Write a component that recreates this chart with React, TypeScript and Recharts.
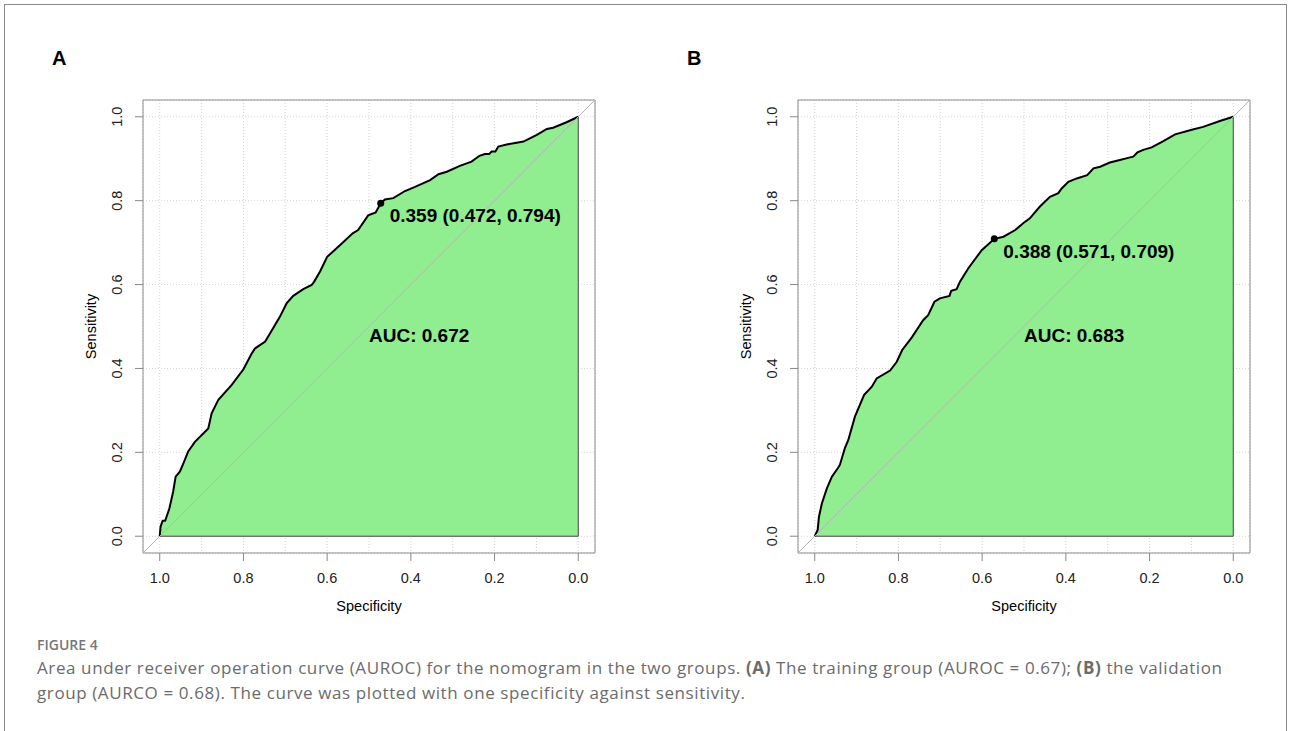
import React from "react";
import {
  ComposedChart,
  Area,
  Line,
  XAxis,
  YAxis,
  CartesianGrid,
  ReferenceArea,
  ReferenceDot,
} from "recharts";

// ROC curve, training group (panel A)
const specA = [
  1.0, 0.998, 0.993, 0.987, 0.977, 0.968, 0.962, 0.952, 0.945, 0.932, 0.916, 0.884, 0.876, 0.86,
  0.828, 0.8, 0.78, 0.772, 0.748, 0.713, 0.697, 0.681, 0.657, 0.637, 0.631, 0.617, 0.6, 0.565,
  0.539, 0.526, 0.502, 0.484, 0.472, 0.462, 0.442, 0.414, 0.39, 0.354, 0.334, 0.314, 0.283, 0.255,
  0.236, 0.223, 0.213, 0.207, 0.198, 0.191, 0.171, 0.131, 0.099, 0.075, 0.06, 0.028, 0.0,
];
const sensA = [
  0.0, 0.023, 0.037, 0.037, 0.066, 0.106, 0.142, 0.154, 0.17, 0.202, 0.225, 0.257, 0.293, 0.325,
  0.361, 0.398, 0.436, 0.448, 0.464, 0.523, 0.555, 0.573, 0.589, 0.599, 0.607, 0.631, 0.666, 0.698,
  0.722, 0.73, 0.765, 0.772, 0.794, 0.803, 0.806, 0.823, 0.833, 0.849, 0.863, 0.869, 0.883, 0.893,
  0.907, 0.911, 0.911, 0.917, 0.917, 0.929, 0.934, 0.941, 0.957, 0.971, 0.974, 0.987, 1.0,
];

// ROC curve, validation group (panel B)
const specB = [
  1.0, 0.993, 0.99, 0.983, 0.971, 0.959, 0.945, 0.94, 0.928, 0.92, 0.904, 0.882, 0.864, 0.852,
  0.82, 0.804, 0.791, 0.768, 0.741, 0.729, 0.714, 0.701, 0.678, 0.674, 0.661, 0.653, 0.633, 0.601,
  0.571, 0.549, 0.521, 0.502, 0.486, 0.462, 0.438, 0.418, 0.41, 0.394, 0.374, 0.349, 0.334, 0.318,
  0.295, 0.271, 0.251, 0.239, 0.229, 0.215, 0.195, 0.167, 0.139, 0.099, 0.072, 0.032, 0.0,
];
const sensB = [
  0.0, 0.015, 0.046, 0.078, 0.114, 0.142, 0.162, 0.17, 0.21, 0.229, 0.285, 0.337, 0.356, 0.376,
  0.395, 0.416, 0.444, 0.474, 0.515, 0.527, 0.559, 0.567, 0.573, 0.585, 0.589, 0.607, 0.639, 0.682,
  0.709, 0.714, 0.73, 0.746, 0.758, 0.786, 0.809, 0.818, 0.829, 0.845, 0.853, 0.861, 0.877, 0.881,
  0.891, 0.897, 0.902, 0.905, 0.915, 0.921, 0.927, 0.942, 0.958, 0.969, 0.976, 0.99, 1.0,
];

// best threshold: [threshold, specificity, sensitivity]
const cutA = [0.359, 0.472, 0.794];
const cutB = [0.388, 0.571, 0.709];
const aucA = 0.672;
const aucB = 0.683;

const axisTicks = [0, 0.2, 0.4, 0.6, 0.8, 1];
const gridX = [0, 0.1, 0.2, 0.3, 0.4, 0.5, 0.6, 0.7, 0.8, 0.9, 1];
const diagonal = [
  { spec: 1.04, sens: -0.04 },
  { spec: -0.04, sens: 1.04 },
];
const polygonEdge = [
  { spec: 1, sens: 0 },
  { spec: 0, sens: 0 },
  { spec: 0, sens: 1 },
];

const PLOT_FONT = '"Liberation Sans", Arial, Helvetica, sans-serif';
const CAPTION_FONT = '"Open Sans", "Noto Sans", sans-serif';

const XTick = (props: any) => {
  const { x, y, payload } = props;
  return (
    <text x={x} y={y} textAnchor="middle" dominantBaseline="central" fontSize={14.5} fill="#222" fontFamily={PLOT_FONT}>
      {Number(payload.value).toFixed(1)}
    </text>
  );
};

const YTick = (props: any) => {
  const { x, y, payload } = props;
  return (
    <text
      x={x}
      y={y}
      transform={`rotate(-90, ${x}, ${y})`}
      textAnchor="middle"
      dominantBaseline="central"
      fontSize={14.5}
      fill="#222"
      fontFamily={PLOT_FONT}
    >
      {Number(payload.value).toFixed(1)}
    </text>
  );
};

function RocPanel({ spec, sens, cut, auc, left, letter, letterLeft }: any) {
  const data = spec.map((s: number, i: number) => ({ spec: s, sens: sens[i] }));
  const cutLabel = `${cut[0].toFixed(3)} (${cut[1].toFixed(3)}, ${cut[2].toFixed(3)})`;

  return (
    <div style={{ position: "absolute", left, top: 0, width: 640, height: 640 }}>
      <div
        style={{
          position: "absolute",
          left: letterLeft,
          top: 47,
          fontFamily: PLOT_FONT,
          fontWeight: "bold",
          fontSize: 20,
          lineHeight: "22px",
          color: "#000",
        }}
      >
        {letter}
      </div>
      <ComposedChart width={640} height={640} data={data} margin={{ top: 100, right: 45, bottom: 47, left: 83 }}>
        <CartesianGrid xAxisId="grid" stroke="#d4d4d4" strokeDasharray="1 2" />
        <XAxis
          xAxisId="grid"
          type="number"
          dataKey="spec"
          domain={[-0.04, 1.04]}
          reversed
          ticks={gridX}
          interval={0}
          hide
        />
        <XAxis
          type="number"
          dataKey="spec"
          domain={[-0.04, 1.04]}
          reversed
          ticks={axisTicks}
          interval={0}
          height={40}
          axisLine={false}
          tickSize={8}
          tickMargin={17}
          tickLine={{ stroke: "#888" }}
          tick={<XTick />}
          label={{
            content: (p: any) => (
              <text
                x={p.viewBox.x + p.viewBox.width / 2}
                y={p.viewBox.y + 53}
                textAnchor="middle"
                dominantBaseline="central"
                fontSize={14.5}
                fill="#000"
                fontFamily={PLOT_FONT}
              >
                Specificity
              </text>
            ),
          }}
        />
        <YAxis
          type="number"
          domain={[-0.04, 1.04]}
          ticks={axisTicks}
          interval={0}
          width={60}
          axisLine={false}
          tickSize={8}
          tickMargin={18}
          tickLine={{ stroke: "#888" }}
          tick={<YTick />}
          label={{
            content: (p: any) => {
              const cx = p.viewBox.x + 8;
              const cy = p.viewBox.y + p.viewBox.height / 2;
              return (
                <text
                  x={cx}
                  y={cy}
                  transform={`rotate(-90, ${cx}, ${cy})`}
                  textAnchor="middle"
                  dominantBaseline="central"
                  fontSize={14.5}
                  fill="#000"
                  fontFamily={PLOT_FONT}
                >
                  Sensitivity
                </text>
              );
            },
          }}
        />
        <Area
          type="linear"
          dataKey="sens"
          baseValue={0}
          fill="#90EE90"
          fillOpacity={1}
          stroke="#000"
          strokeWidth={2}
          dot={false}
          activeDot={false}
          isAnimationActive={false}
        />
        <Line
          data={polygonEdge}
          type="linear"
          dataKey="sens"
          stroke="#444"
          strokeWidth={1}
          dot={false}
          activeDot={false}
          isAnimationActive={false}
        />
        <Line
          data={diagonal}
          type="linear"
          dataKey="sens"
          stroke="#b5b5b5"
          strokeWidth={1}
          dot={false}
          activeDot={false}
          isAnimationActive={false}
        />
        <ReferenceArea x1={-0.04} x2={1.04} y1={-0.04} y2={1.04} fill="none" stroke="#8c8c8c" strokeWidth={1} />
        <ReferenceDot
          x={cut[1]}
          y={cut[2]}
          r={3.5}
          shape={(p: any) => (
            <g>
              <circle cx={p.cx} cy={p.cy} r={3.5} fill="#000" />
              <text x={p.cx + 9} y={p.cy + 19} fontSize={19} fontWeight="bold" fill="#000" fontFamily={PLOT_FONT}>
                {cutLabel}
              </text>
            </g>
          )}
        />
        <ReferenceDot
          x={0.5}
          y={0.5}
          r={0}
          shape={(p: any) => (
            <text x={p.cx} y={p.cy + 15} fontSize={19} fontWeight="bold" fill="#000" fontFamily={PLOT_FONT}>
              {`AUC: ${auc.toFixed(3)}`}
            </text>
          )}
        />
      </ComposedChart>
    </div>
  );
}

export default function App() {
  return (
    <div
      style={{
        position: "absolute",
        left: 0,
        top: 0,
        width: 1290,
        height: 731,
        background: "#fff",
        overflow: "hidden",
      }}
    >
      <div
        style={{
          position: "absolute",
          left: 4,
          top: 4,
          width: 1283,
          height: 780,
          border: "1px solid #8a8a8a",
          boxSizing: "border-box",
        }}
      />
      <RocPanel spec={specA} sens={sensA} cut={cutA} auc={aucA} left={0} letter="A" letterLeft={52} />
      <RocPanel spec={specB} sens={sensB} cut={cutB} auc={aucB} left={655} letter="B" letterLeft={32} />
      <div style={{ position: "absolute", left: 37, top: 636, fontFamily: CAPTION_FONT, color: "#6b6b6b" }}>
        <div style={{ fontSize: 14, fontWeight: 600, lineHeight: "18px", color: "#777" }}>FIGURE 4</div>
        <div style={{ fontSize: 17, letterSpacing: 0.6, lineHeight: "25px", whiteSpace: "nowrap", marginTop: 1 }}>
          Area under receiver operation curve (AUROC) for the nomogram in the two groups. <b>(A)</b> The training
          group (AUROC = 0.67); <b>(B)</b> the validation
        </div>
        <div style={{ fontSize: 17, letterSpacing: 0.6, lineHeight: "25px", whiteSpace: "nowrap" }}>
          group (AURCO = 0.68). The curve was plotted with one specificity against sensitivity.
        </div>
      </div>
    </div>
  );
}
